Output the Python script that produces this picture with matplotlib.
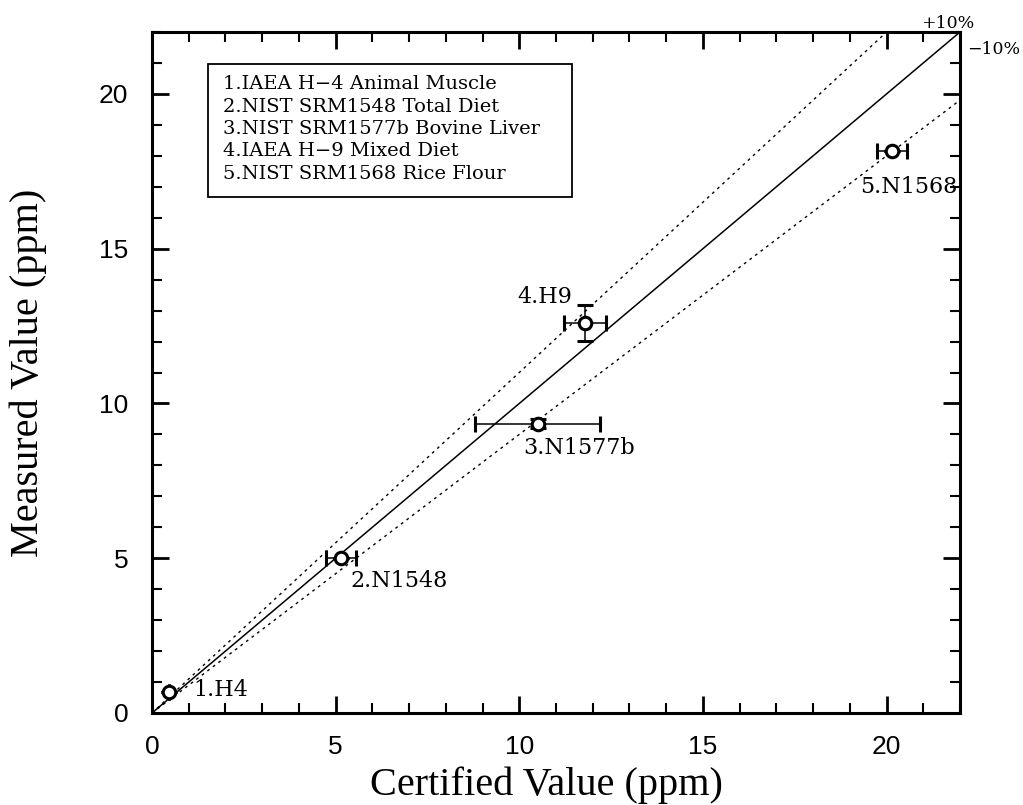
import matplotlib
matplotlib.use("Agg")
import matplotlib.pyplot as plt
import numpy as np
from matplotlib.patches import Rectangle
from matplotlib.ticker import MultipleLocator

# certified vs measured values (ppm) for the reference materials
labels = ["1.H4", "2.N1548", "3.N1577b", "4.H9", "5.N1568"]
certified = [0.45, 5.15, 10.5, 11.8, 20.15]
certified_err = [0.0, 0.4, 1.7, 0.57, 0.4]
measured = [0.68, 5.0, 9.35, 12.6, 18.15]
measured_err = [0.0, 0.0, 0.15, 0.58, 0.0]

legend_lines = [
    "1.IAEA H\u22124 Animal Muscle",
    "2.NIST SRM1548 Total Diet",
    "3.NIST SRM1577b Bovine Liver",
    "4.IAEA H\u22129 Mixed Diet",
    "5.NIST SRM1568 Rice Flour",
]

fig = plt.figure(figsize=(10.23, 8.05), dpi=100)
ax = fig.add_axes([0.1486, 0.1143, 0.7898, 0.8459])

#Reference lines: 1:1 and +/-10 %
xline = np.array([0, 22])
ax.plot(xline, xline, color="black", lw=1.1)
ax.plot(xline, 1.1 * xline, color="black", lw=1.0, ls=(0, (2, 3)))
ax.plot(xline, 0.9 * xline, color="black", lw=1.0, ls=(0, (2, 3)))

#Data points with error bars
ax.errorbar(certified, measured, xerr=certified_err, yerr=measured_err,
            fmt="o", ms=9, mfc="white", mec="black", mew=2.2,
            ecolor="black", elinewidth=1.1, capsize=6, capthick=1.0, zorder=5)

#Point labels
offsets = [(0.67, 0.06), (0.24, -0.74), (-0.38, -0.8), (-0.37, 0.85), (0.45, -1.15)]
aligns = ["left", "left", "left", "right", "center"]
for lab, x, y, (dx, dy), ha in zip(labels, certified, measured, offsets, aligns):
    ax.text(x + dx, y + dy, lab, ha=ha, va="center", fontsize=16,
            family="DejaVu Serif")

ax.text(21.66, 22.29, "+10%", ha="center", va="center", fontsize=12.5,
        family="DejaVu Serif", clip_on=False)
ax.text(22.2, 21.45, "\u221210%", ha="left", va="center", fontsize=12.5,
        family="DejaVu Serif", clip_on=False)

#Legend box
ax.add_patch(Rectangle((1.52, 16.68), 9.91, 4.29, fc="white", ec="black",
                       lw=1.3, zorder=3))
for i, line in enumerate(legend_lines):
    ax.text(1.93, 20.32 - i * 0.726, line, ha="left", va="center",
            fontsize=14, family="DejaVu Serif", zorder=4)

ax.set_xlim(0, 22)
ax.set_ylim(0, 22)
ax.xaxis.set_major_locator(MultipleLocator(5))
ax.yaxis.set_major_locator(MultipleLocator(5))
ax.xaxis.set_minor_locator(MultipleLocator(1))
ax.yaxis.set_minor_locator(MultipleLocator(1))
ax.tick_params(which="both", direction="in", top=True, right=True,
               labeltop=False, labelright=False)
ax.tick_params(which="major", length=12, width=2)
ax.tick_params(which="minor", length=7, width=1.5)
ax.tick_params(axis="x", pad=16)
ax.tick_params(axis="y", pad=17)
for t in ax.get_xticklabels() + ax.get_yticklabels():
    t.set_family("Liberation Sans")
    t.set_fontsize(19)
for spine in ax.spines.values():
    spine.set_linewidth(2.2)

ax.set_xlabel("Certified Value (ppm)", fontsize=29, family="Liberation Serif")
ax.set_ylabel("Measured Value (ppm)", fontsize=29, family="Liberation Serif")
ax.xaxis.set_label_coords(0.488, -0.1057)
ax.xaxis.label.set_va("center")
ax.yaxis.set_label_coords(-0.1535, 0.5)
ax.yaxis.label.set_va("center")

fig.savefig("out.png", dpi=100)
